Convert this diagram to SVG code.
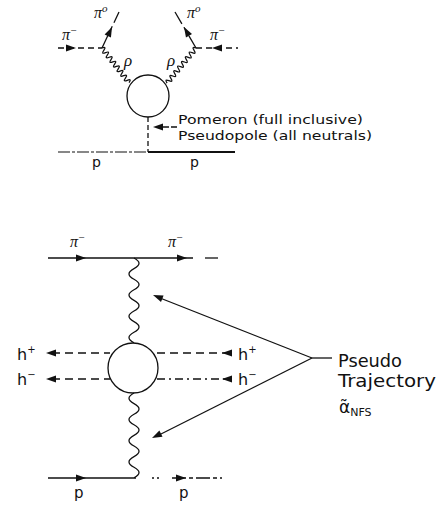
<svg xmlns="http://www.w3.org/2000/svg" xmlns:xlink="http://www.w3.org/1999/xlink" width="437" height="506" viewBox="0 0 437 506">
<style>
.ln{fill:none;stroke:#111;stroke-width:1.3}
.dash{fill:none;stroke:#111;stroke-width:1.3;stroke-dasharray:6,4}
.dash2{fill:none;stroke:#111;stroke-width:1.3;stroke-dasharray:8,5}
.dd{fill:none;stroke:#111;stroke-width:1.3;stroke-dasharray:8,4,2,4}
.wave{fill:none;stroke:#111;stroke-width:1.3}
.ah{fill:#111}
.gr{font-family:"Liberation Serif",serif;font-style:italic;fill:#111}
.tx{font-family:"DejaVu Sans","Liberation Sans",sans-serif;fill:#111}
</style>
<defs>
<path id="ah" d="M0,0 L-10,-3.5 L-10,3.5 Z"/>
</defs>
<rect width="437" height="506" fill="#fff"/>

<g id="connectors">
<!-- top diagram -->
<line class="dash" x1="58" y1="48" x2="102" y2="48"/>
<use href="#ah" class="ah" transform="translate(76,48)"/>
<line class="dash" x1="196" y1="48" x2="238" y2="48"/>
<use href="#ah" class="ah" transform="translate(212,48) rotate(180)"/>
<line class="dash" x1="102" y1="48" x2="119" y2="12" style="stroke-dasharray:14,4,6,4"/>
<use href="#ah" class="ah" transform="translate(112,27) rotate(-65)"/>
<line class="dash" x1="196" y1="48" x2="175" y2="12" style="stroke-dasharray:14,4,6,4"/>
<use href="#ah" class="ah" transform="translate(184,27) rotate(-120)"/>
<path class="wave" transform="translate(102,48) rotate(52)" d="M0,0 q1.47,-5 2.93,0 t2.93,0 t2.93,0 t2.93,0 t2.93,0 t2.93,0 t2.93,0 t2.93,0 t2.93,0 t2.93,0 t2.93,0 t2.93,0 t2.93,0 t2.93,0 t2.93,0"/>
<path class="wave" transform="translate(196,48) rotate(129.6)" d="M0,0 q1.52,5 3.03,0 t3.03,0 t3.03,0 t3.03,0 t3.03,0 t3.03,0 t3.03,0 t3.03,0 t3.03,0 t3.03,0 t3.03,0 t3.03,0 t3.03,0 t3.03,0 t3.03,0"/>
<line class="dash" x1="148" y1="117" x2="148" y2="152" style="stroke-dasharray:5,3"/>
<line class="ln" x1="58" y1="152" x2="148" y2="152" style="stroke-dasharray:12,2,3,2;stroke-width:1.1"/>
<line class="ln" x1="148" y1="152" x2="235" y2="152" style="stroke-width:1.8"/>
<line class="ln" x1="177" y1="127" x2="158" y2="127" style="stroke-dasharray:6,2"/>
<use href="#ah" class="ah" transform="translate(153,127) rotate(180)"/>

<!-- bottom diagram -->
<line class="ln" x1="48" y1="258" x2="193" y2="258"/>
<line class="ln" x1="205" y1="258" x2="218" y2="258"/>
<use href="#ah" class="ah" transform="translate(86,258)"/>
<use href="#ah" class="ah" transform="translate(187,258)"/>
<path class="wave" d="M134,258 q10,5.3 0,10.6 t0,10.6 t0,10.6 t0,10.6 t0,10.6 t0,10.6 t0,10.6 t0,10.6"/>
<path class="wave" d="M134,393 q-10,5.3 0,10.6 t0,10.6 t0,10.6 t0,10.6 t0,10.6 t0,10.6 t0,10.6 t0,10.6"/>
<line class="ln" x1="48" y1="478" x2="136" y2="478"/>
<use href="#ah" class="ah" transform="translate(86,478)"/>
<line class="ln" x1="152" y1="478" x2="160" y2="478" style="stroke-dasharray:2,3"/>
<line class="ln" x1="172" y1="478" x2="222" y2="478" style="stroke-dasharray:14,3,4,3"/>
<use href="#ah" class="ah" transform="translate(186,478)"/>
<!-- h lines -->
<line class="dash2" x1="52" y1="353" x2="110" y2="353"/>
<use href="#ah" class="ah" transform="translate(46,353) rotate(180)"/>
<line class="dash2" x1="157" y1="353" x2="226" y2="353"/>
<use href="#ah" class="ah" transform="translate(222,353) rotate(180)"/>
<line class="dash2" x1="52" y1="379" x2="110" y2="379"/>
<use href="#ah" class="ah" transform="translate(46,379) rotate(180)"/>
<line class="dd" x1="157" y1="379" x2="226" y2="379"/>
<use href="#ah" class="ah" transform="translate(222,379) rotate(180)"/>
<!-- pseudo trajectory arrows -->
<line class="ln" x1="312" y1="358" x2="160" y2="298"/>
<use href="#ah" class="ah" transform="translate(153,295) rotate(201.5)"/>
<line class="ln" x1="312" y1="358" x2="159" y2="435"/>
<use href="#ah" class="ah" transform="translate(152,438) rotate(153.3)"/>
<line class="ln" x1="312" y1="358" x2="332" y2="358"/>
</g>

<g id="blob-top">
<circle cx="148" cy="96" r="21" class="ln"/>
</g>
<g id="blob-bottom">
<circle cx="133" cy="368" r="25" class="ln"/>
</g>

<g id="labels-top">
<text class="gr" x="62" y="40" font-size="16">π<tspan font-size="11" dy="-6">−</tspan></text>
<text class="gr" x="210" y="40" font-size="16">π<tspan font-size="11" dy="-6">−</tspan></text>
<text class="gr" x="94" y="18" font-size="16">π<tspan font-size="11" dy="-6">o</tspan></text>
<text class="gr" x="187" y="18" font-size="16">π<tspan font-size="11" dy="-6">o</tspan></text>
<text class="gr" x="124" y="66" font-size="17">ρ</text>
<text class="gr" x="167" y="66" font-size="17">ρ</text>
<text class="tx" x="178" y="124" font-size="13" textLength="185" lengthAdjust="spacingAndGlyphs">Pomeron (full inclusive)</text>
<text class="tx" x="178" y="140" font-size="13" textLength="194" lengthAdjust="spacingAndGlyphs">Pseudopole (all neutrals)</text>
<text class="tx" x="92" y="167" font-size="14">p</text>
<text class="tx" x="190" y="167" font-size="14">p</text>
</g>

<g id="labels-bottom">
<text class="gr" x="70" y="247" font-size="16">π<tspan font-size="11" dy="-6">−</tspan></text>
<text class="gr" x="168" y="247" font-size="16">π<tspan font-size="11" dy="-6">−</tspan></text>
<text class="tx" x="17" y="360" font-size="16">h<tspan font-size="10" dy="-7">+</tspan></text>
<text class="tx" x="17" y="385" font-size="16">h<tspan font-size="10" dy="-7">−</tspan></text>
<text class="tx" x="238" y="360" font-size="16">h<tspan font-size="10" dy="-7">+</tspan></text>
<text class="tx" x="238" y="385" font-size="16">h<tspan font-size="10" dy="-7">−</tspan></text>
<text class="tx" x="74" y="498" font-size="15">p</text>
<text class="tx" x="179" y="498" font-size="15">p</text>
<text class="tx" x="338" y="367" font-size="18" textLength="64" lengthAdjust="spacingAndGlyphs">Pseudo</text>
<text class="tx" x="338" y="387" font-size="18" textLength="98" lengthAdjust="spacingAndGlyphs">Trajectory</text>
<text class="tx" x="339" y="413" font-size="17">α̃<tspan font-size="11" dy="3">NFS</tspan></text>
</g>
</svg>
